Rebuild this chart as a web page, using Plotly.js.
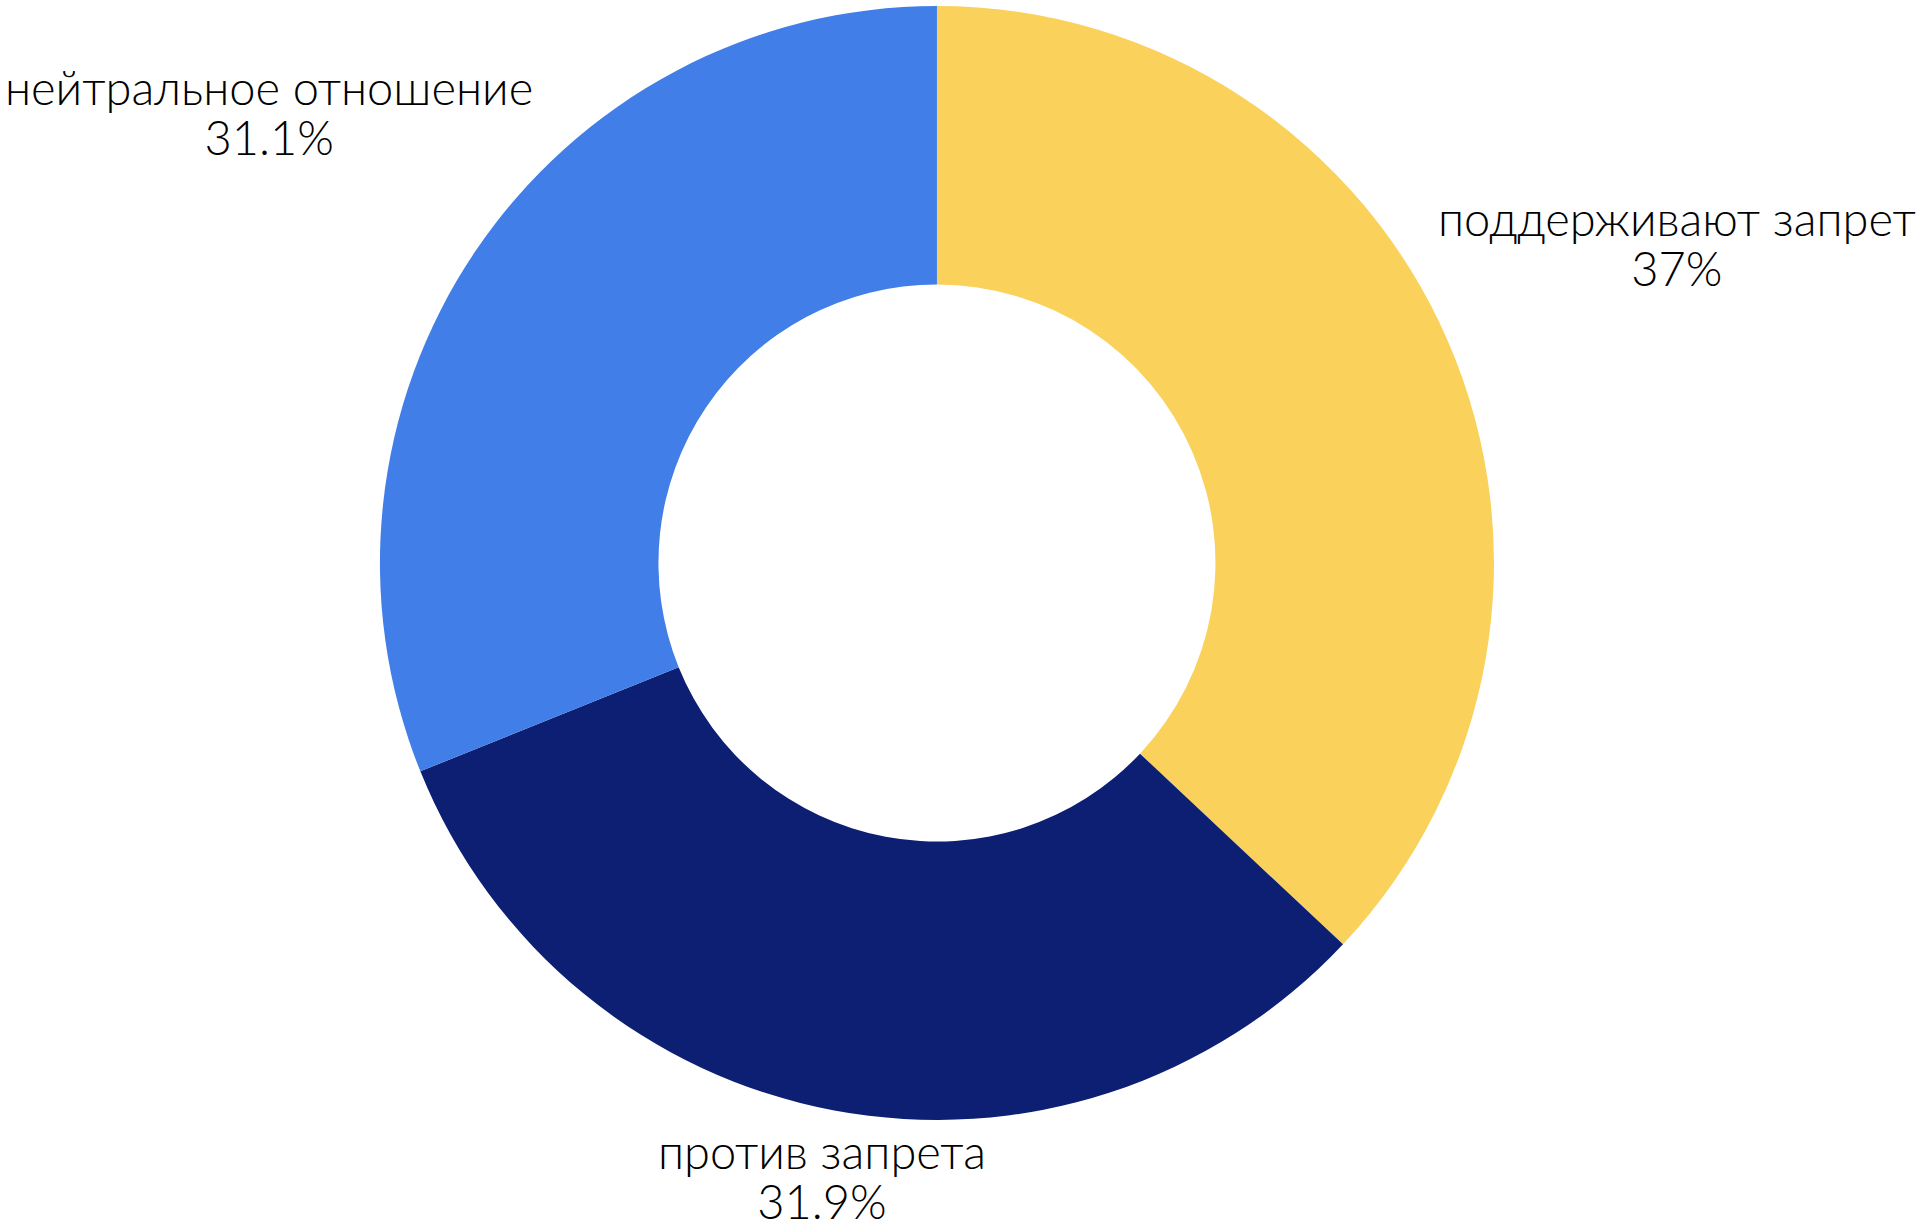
<!DOCTYPE html>
<html>
<head>
<meta charset="utf-8">
<script src="https://cdn.plot.ly/plotly-3.0.1.min.js"></script>
<style>
  html, body { margin: 0; padding: 0; background: #fff; }
  #donut-chart { width: 1920px; height: 1223px; }
</style>
</head>
<body>
<div id="donut-chart"></div>
<script>
// Data
const labels = ["поддерживают запрет", "против запрета", "нейтральное отношение"];
const shares = [37, 31.9, 31.1];
const colors = ["#F9D15B", "#0C1F73", "#417EE8"];

// How far out each label sits, in pie radii (label placement only)
const labelDistance = [1.447, 1.12, 1.447];

// Page / pie box
const W = 1920, H = 1223;
const domainX = [0, 0.976];
const domainY = [0.0842, 0.9951];
// glyph size vs. base size (base sets the line spacing: 1.3 x base)
const glyphSize = 47;
const baseSize = 38.5;

// Build labels: each one sits along its slice's middle angle
function buildLabels() {
  let total = shares.reduce((a, b) => a + b, 0);
  let cx = (domainX[0] + domainX[1]) / 2 * W;
  let cy = (1 - (domainY[0] + domainY[1]) / 2) * H;
  let r = Math.min((domainX[1] - domainX[0]) * W, (domainY[1] - domainY[0]) * H) / 2;
  let cum = 0;
  let notes = [];
  shares.forEach((v, i) => {
    let mid = (cum + v / 2) / total * 2 * Math.PI;
    cum += v;
    let d = labelDistance[i] * r;
    let px = cx + d * Math.sin(mid);
    let py = cy - d * Math.cos(mid);
    let pct = parseFloat((v / total * 100).toFixed(1));
    let span = s => '<span style="font-size:' + glyphSize + 'px">' + s + '</span>';
    notes.push({
      xref: 'paper', yref: 'paper',
      x: px / W, y: 1 - py / H,
      xanchor: 'center', yanchor: 'middle',
      align: 'center',
      showarrow: false,
      text: span(labels[i]) + '<br>' + span(pct + '%'),
      font: { family: 'Lato', size: baseSize, color: '#000', weight: 300 }
    });
  });
  return notes;
}

// Draw donut chart
function drawDonut() {
  let trace = {
    type: 'pie',
    labels: labels,
    values: shares,
    hole: 0.5,
    sort: false,
    direction: 'clockwise',
    rotation: 0,
    textinfo: 'none',
    hoverinfo: 'skip',
    marker: { colors: colors, line: { width: 0 } },
    domain: { x: domainX, y: domainY },
    showlegend: false
  };

  let layout = {
    width: W,
    height: H,
    margin: { l: 0, r: 0, t: 0, b: 0 },
    paper_bgcolor: '#fff',
    font: { family: 'Lato', color: '#000' },
    showlegend: false,
    annotations: buildLabels()
  };

  Plotly.newPlot('donut-chart', [trace], layout, { displayModeBar: false, staticPlot: true });
}

drawDonut();
</script>
</body>
</html>
